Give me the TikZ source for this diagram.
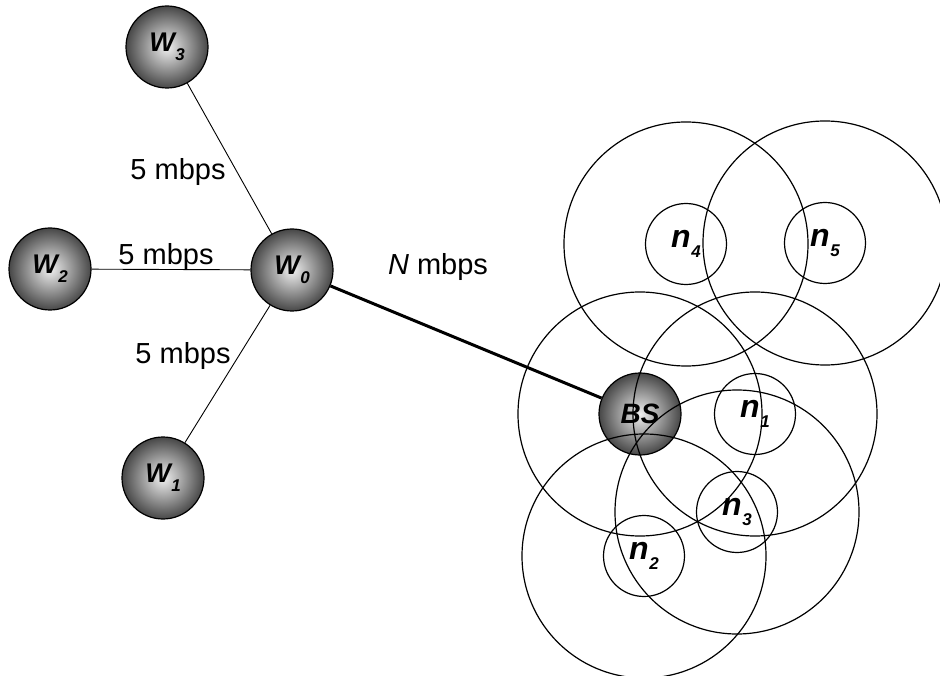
\documentclass[tikz,border=0pt]{standalone}
\usepackage{fontspec}
\setmainfont{Liberation Sans}
\newcommand{\nodelab}[3]{{\fontsize{#3}{#3}\selectfont\bfseries\itshape #1\kern0.02em\raisebox{-0.32em}{\fontsize{17}{17}\selectfont #2}}}
\begin{document}
\begin{tikzpicture}[x=1pt,y=-1pt,
  station/.style={circle, minimum size=82pt, inner sep=0pt, draw=black, line width=1.2pt,
    inner color=gray!12, outer color=black!72},
  cell/.style={circle, minimum size=81pt, inner sep=0pt, draw=black, line width=1.2pt},
  link/.style={draw=black, line width=0.9pt},
  biglink/.style={draw=black, line width=3pt},
  coverage/.style={draw=black, line width=1.2pt},
  rate/.style={font=\fontsize{29}{29}\selectfont, inner sep=1pt}]
\useasboundingbox (0,0) rectangle (940,676);
% wired stations
\node[station] (w3) at (167,47) {\nodelab{W}{3}{27}};
\node[station] (w2) at (50,269) {\nodelab{W}{2}{27}};
\node[station] (w0) at (292,270) {\nodelab{W}{0}{27}};
\node[station] (w1) at (163,478) {\nodelab{W}{1}{27}};
% base station and wireless nodes
\node[station] (bs) at (640,414) {{\fontsize{28}{28}\selectfont\bfseries\itshape BS}};
\node[cell] (n1) at (755,414) {\nodelab{n}{1}{32}};
\node[cell] (n2) at (644,556) {\nodelab{n}{2}{32}};
\node[cell] (n3) at (737,512) {\nodelab{n}{3}{32}};
\node[cell] (n4) at (686,244) {\nodelab{n}{4}{32}};
\node[cell] (n5) at (825,243) {\nodelab{n}{5}{32}};
% transmission ranges
\foreach \c in {bs,n1,n2,n3,n4,n5}
  \draw[coverage] (\c.center) circle[radius=122pt];
% links
\draw[link] (w3) -- (w0);
\draw[link] (w2) -- (w0);
\draw[link] (w1) -- (w0);
\draw[biglink] (w0) -- (bs);
% rate labels
\node[rate] (r3) at (178,172) {5 mbps};
\node[rate] (r2) at (166,257) {5 mbps};
\node[rate] (r1) at (183,356) {5 mbps};
\node[rate] (rn) at (438,267) {\textit{N} mbps};
\end{tikzpicture}
\end{document}
